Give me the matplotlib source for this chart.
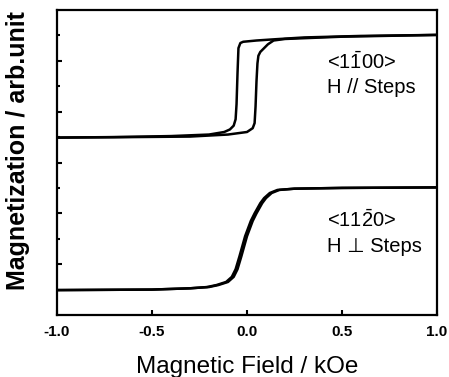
import numpy as np
import matplotlib.pyplot as plt

plt.rcParams['font.family'] = ['Liberation Sans', 'DejaVu Sans']
plt.rcParams['mathtext.fontset'] = 'custom'
plt.rcParams['mathtext.rm'] = 'Liberation Sans'

# <1-100>, H // Steps (curva de cima) - ramo descendente e ascendente
h_par_down = [1.0, 0.6, 0.3, 0.15, 0.05, -0.02, -0.035, -0.045, -0.05, -0.055,
              -0.06, -0.07, -0.09, -0.12, -0.2, -0.4, -0.7, -1.0]
m_par_down = [11.02, 10.98, 10.92, 10.85, 10.8, 10.75, 10.7, 10.5, 9.5, 8.3,
              7.7, 7.45, 7.3, 7.2, 7.1, 7.04, 7.0, 6.98]
h_par_up = [-1.0, -0.6, -0.3, -0.1, 0.0, 0.03, 0.04, 0.045, 0.05, 0.055,
            0.06, 0.07, 0.09, 0.11, 0.14, 0.2, 0.5, 1.0]
m_par_up = [6.98, 7.0, 7.02, 7.1, 7.2, 7.35, 7.55, 8.2, 9.2, 9.9,
            10.2, 10.35, 10.5, 10.65, 10.8, 10.86, 10.95, 11.02]

# <11-20>, H perp Steps (curva de baixo)
h_perp_up = [-1.0, -0.5, -0.3, -0.2, -0.15, -0.1, -0.07, -0.05, -0.03, 0.0,
             0.03, 0.05, 0.08, 0.1, 0.13, 0.17, 0.25, 0.5, 1.0]
m_perp_up = [0.98, 1.0, 1.05, 1.1, 1.18, 1.3, 1.5, 1.8, 2.3, 3.1,
             3.7, 4.0, 4.4, 4.6, 4.8, 4.92, 4.97, 5.0, 5.02]
h_perp_down = [1.0, 0.5, 0.25, 0.16, 0.12, 0.09, 0.07, 0.04, 0.02, -0.01,
               -0.04, -0.06, -0.08, -0.11, -0.16, -0.21, -0.3, -0.5, -1.0]
m_perp_down = [5.02, 5.0, 4.97, 4.92, 4.8, 4.6, 4.4, 4.0, 3.7, 3.1,
               2.3, 1.8, 1.5, 1.3, 1.18, 1.1, 1.05, 1.0, 0.98]

fig = plt.figure(figsize=(4.49, 3.77), dpi=100)
ax = fig.add_axes([57/449, 1 - 315/377, 380/449, 305/377])

for h, m in [(h_par_down, m_par_down), (h_par_up, m_par_up),
             (h_perp_up, m_perp_up), (h_perp_down, m_perp_down)]:
    ax.plot(h, m, color='black', lw=1.8)

ax.set_xlim(-1.0, 1.0)
ax.set_ylim(0, 12)
ax.set_xticks([-1.0, -0.5, 0.0, 0.5, 1.0])
ax.set_xticklabels(['-1.0', '-0.5', '0.0', '0.5', '1.0'], fontweight='bold', fontsize=11)
ax.set_yticks([2, 4, 6, 8, 10])
ax.set_yticks([1, 3, 5, 7, 9, 11], minor=True)
ax.set_yticklabels([])
ax.tick_params(axis='both', direction='in', width=1.5, length=3.5)
ax.tick_params(axis='y', which='minor', direction='in', width=1.5, length=2)
ax.tick_params(axis='x', pad=7)
for s in ax.spines.values():
    s.set_linewidth(1.6)

ax.set_xlabel('Magnetic Field / kOe', fontsize=17.5)
ax.set_ylabel('Magnetization / arb.unit', fontsize=18, fontweight='bold')
ax.xaxis.set_label_coords(0.5, -0.135)
ax.yaxis.set_label_coords(-0.07, 0.54)

ax.text(0.42, 9.95, r'<1$\mathregular{\bar{1}}$00>', fontsize=14.5, va='center')
ax.text(0.42, 8.97, 'H // Steps', fontsize=14.5, va='center')
ax.text(0.42, 3.74, r'<11$\mathregular{\bar{2}}$0>', fontsize=14.5, va='center')
ax.text(0.42, 2.68, 'H \u22a5 Steps', fontsize=14.5, va='center')

plt.savefig('out.png', dpi=100)
